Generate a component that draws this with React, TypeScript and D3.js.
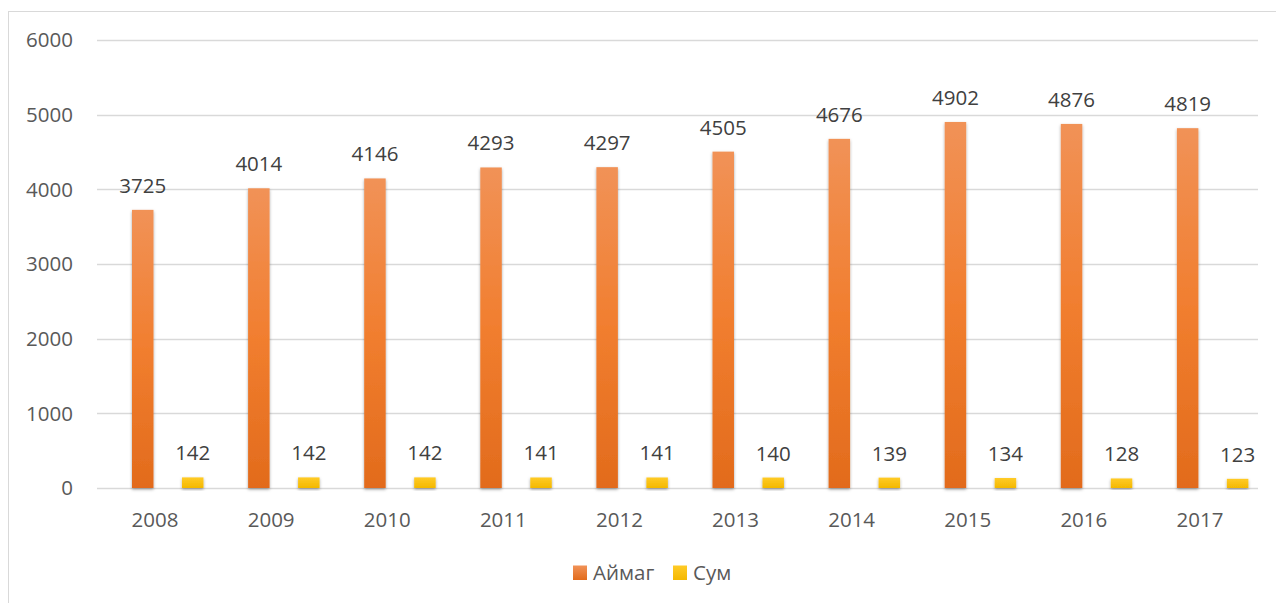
import React from "react";
import * as d3 from "d3";

const years = ["2008", "2009", "2010", "2011", "2012", "2013", "2014", "2015", "2016", "2017"];
const aimag = [3725, 4014, 4146, 4293, 4297, 4505, 4676, 4902, 4876, 4819];
const sum = [142, 142, 142, 141, 141, 140, 139, 134, 128, 123];
const yTicks = [0, 1000, 2000, 3000, 4000, 5000, 6000];
const seriesNames = ["Аймаг", "Сум"];

const W = 1276;
const H = 603;
const FONT = "'Open Sans', 'Noto Sans', sans-serif";
const FS = 20.5;
const TXT = "#595959";

export default function App() {
  const x = d3.scaleBand<string>().domain(years).range([97, 1258]).padding(0);
  const y = d3.scaleLinear().domain([0, 6000]).range([488, 40]);
  const step = x.step();
  const barW = step * 0.185;
  const offA = step * 0.3015;
  const offS = step * 0.732;

  return (
    <svg
      width={W}
      height={H}
      style={{ position: "absolute", left: 0, top: 0, background: "#fff" }}
    >
      <defs>
        <linearGradient id="gA" x1="0" y1="0" x2="0" y2="1">
          <stop offset="0" stopColor="#F19257" />
          <stop offset="0.5" stopColor="#F17E2F" />
          <stop offset="1" stopColor="#E26B1C" />
        </linearGradient>
        <linearGradient id="gS" x1="0" y1="0" x2="0" y2="1">
          <stop offset="0" stopColor="#FFCB27" />
          <stop offset="1" stopColor="#F4B800" />
        </linearGradient>
        <linearGradient id="gAL" x1="0" y1="0" x2="0" y2="1">
          <stop offset="0" stopColor="#F19257" />
          <stop offset="1" stopColor="#E26B1C" />
        </linearGradient>
        <linearGradient id="gSL" x1="0" y1="0" x2="0" y2="1">
          <stop offset="0" stopColor="#FFCB27" />
          <stop offset="1" stopColor="#F4B800" />
        </linearGradient>
        <filter id="sh" x="-50%" y="-10%" width="200%" height="130%">
          <feDropShadow dx="0" dy="1.5" stdDeviation="1.6" floodColor="#000" floodOpacity="0.35" />
        </filter>
      </defs>
      {/* chart border */}
      <rect x={8.5} y={11.5} width={1300} height={700} fill="none" stroke="#D9D9D9" strokeWidth={1} />

      {/* gridlines and y ticks */}
      {yTicks.map((t) => (
        <g key={t}>
          <line x1={97} x2={1258} y1={Math.round(y(t)) + 0.5} y2={Math.round(y(t)) + 0.5} stroke="#D9D9D9" strokeWidth={1.4} />
          <text
            x={73}
            y={y(t)}
            dy="0.36em"
            textAnchor="end"
            fontFamily={FONT}
            fontSize={FS}
            fill={TXT}
          >
            {t}
          </text>
        </g>
      ))}

      {/* bars */}
      {years.map((yr, i) => {
        const x0 = x(yr)!;
        return (
          <g key={yr}>
            <rect
              x={x0 + offA}
              y={y(aimag[i])}
              width={barW}
              height={y(0) - y(aimag[i])}
              fill="url(#gA)"
              filter="url(#sh)"
            />
            <rect
              x={x0 + offS}
              y={y(sum[i])}
              width={barW}
              height={y(0) - y(sum[i])}
              fill="url(#gS)"
              filter="url(#sh)"
            />
            <text
              x={x0 + offA + barW / 2}
              y={y(aimag[i]) - 17}
              textAnchor="middle"
              fontFamily={FONT}
              fontSize={FS}
              fill="#404040"
            >
              {aimag[i]}
            </text>
            <text
              x={x0 + offS + barW / 2}
              y={y(sum[i]) - 17}
              textAnchor="middle"
              fontFamily={FONT}
              fontSize={FS}
              fill="#404040"
            >
              {sum[i]}
            </text>
            <text
              x={x0 + step / 2}
              y={527}
              textAnchor="middle"
              fontFamily={FONT}
              fontSize={FS}
              fill={TXT}
            >
              {yr}
            </text>
          </g>
        );
      })}

      {/* legend */}
      <g>
        <rect x={573} y={565.5} width={14} height={14.5} fill="url(#gAL)" />
        <text x={593} y={580} fontFamily={FONT} fontSize={FS} fill={TXT}>
          {seriesNames[0]}
        </text>
        <rect x={673} y={565.5} width={14} height={14.5} fill="url(#gSL)" />
        <text x={693} y={580} fontFamily={FONT} fontSize={FS} fill={TXT}>
          {seriesNames[1]}
        </text>
      </g>
    </svg>
  );
}
